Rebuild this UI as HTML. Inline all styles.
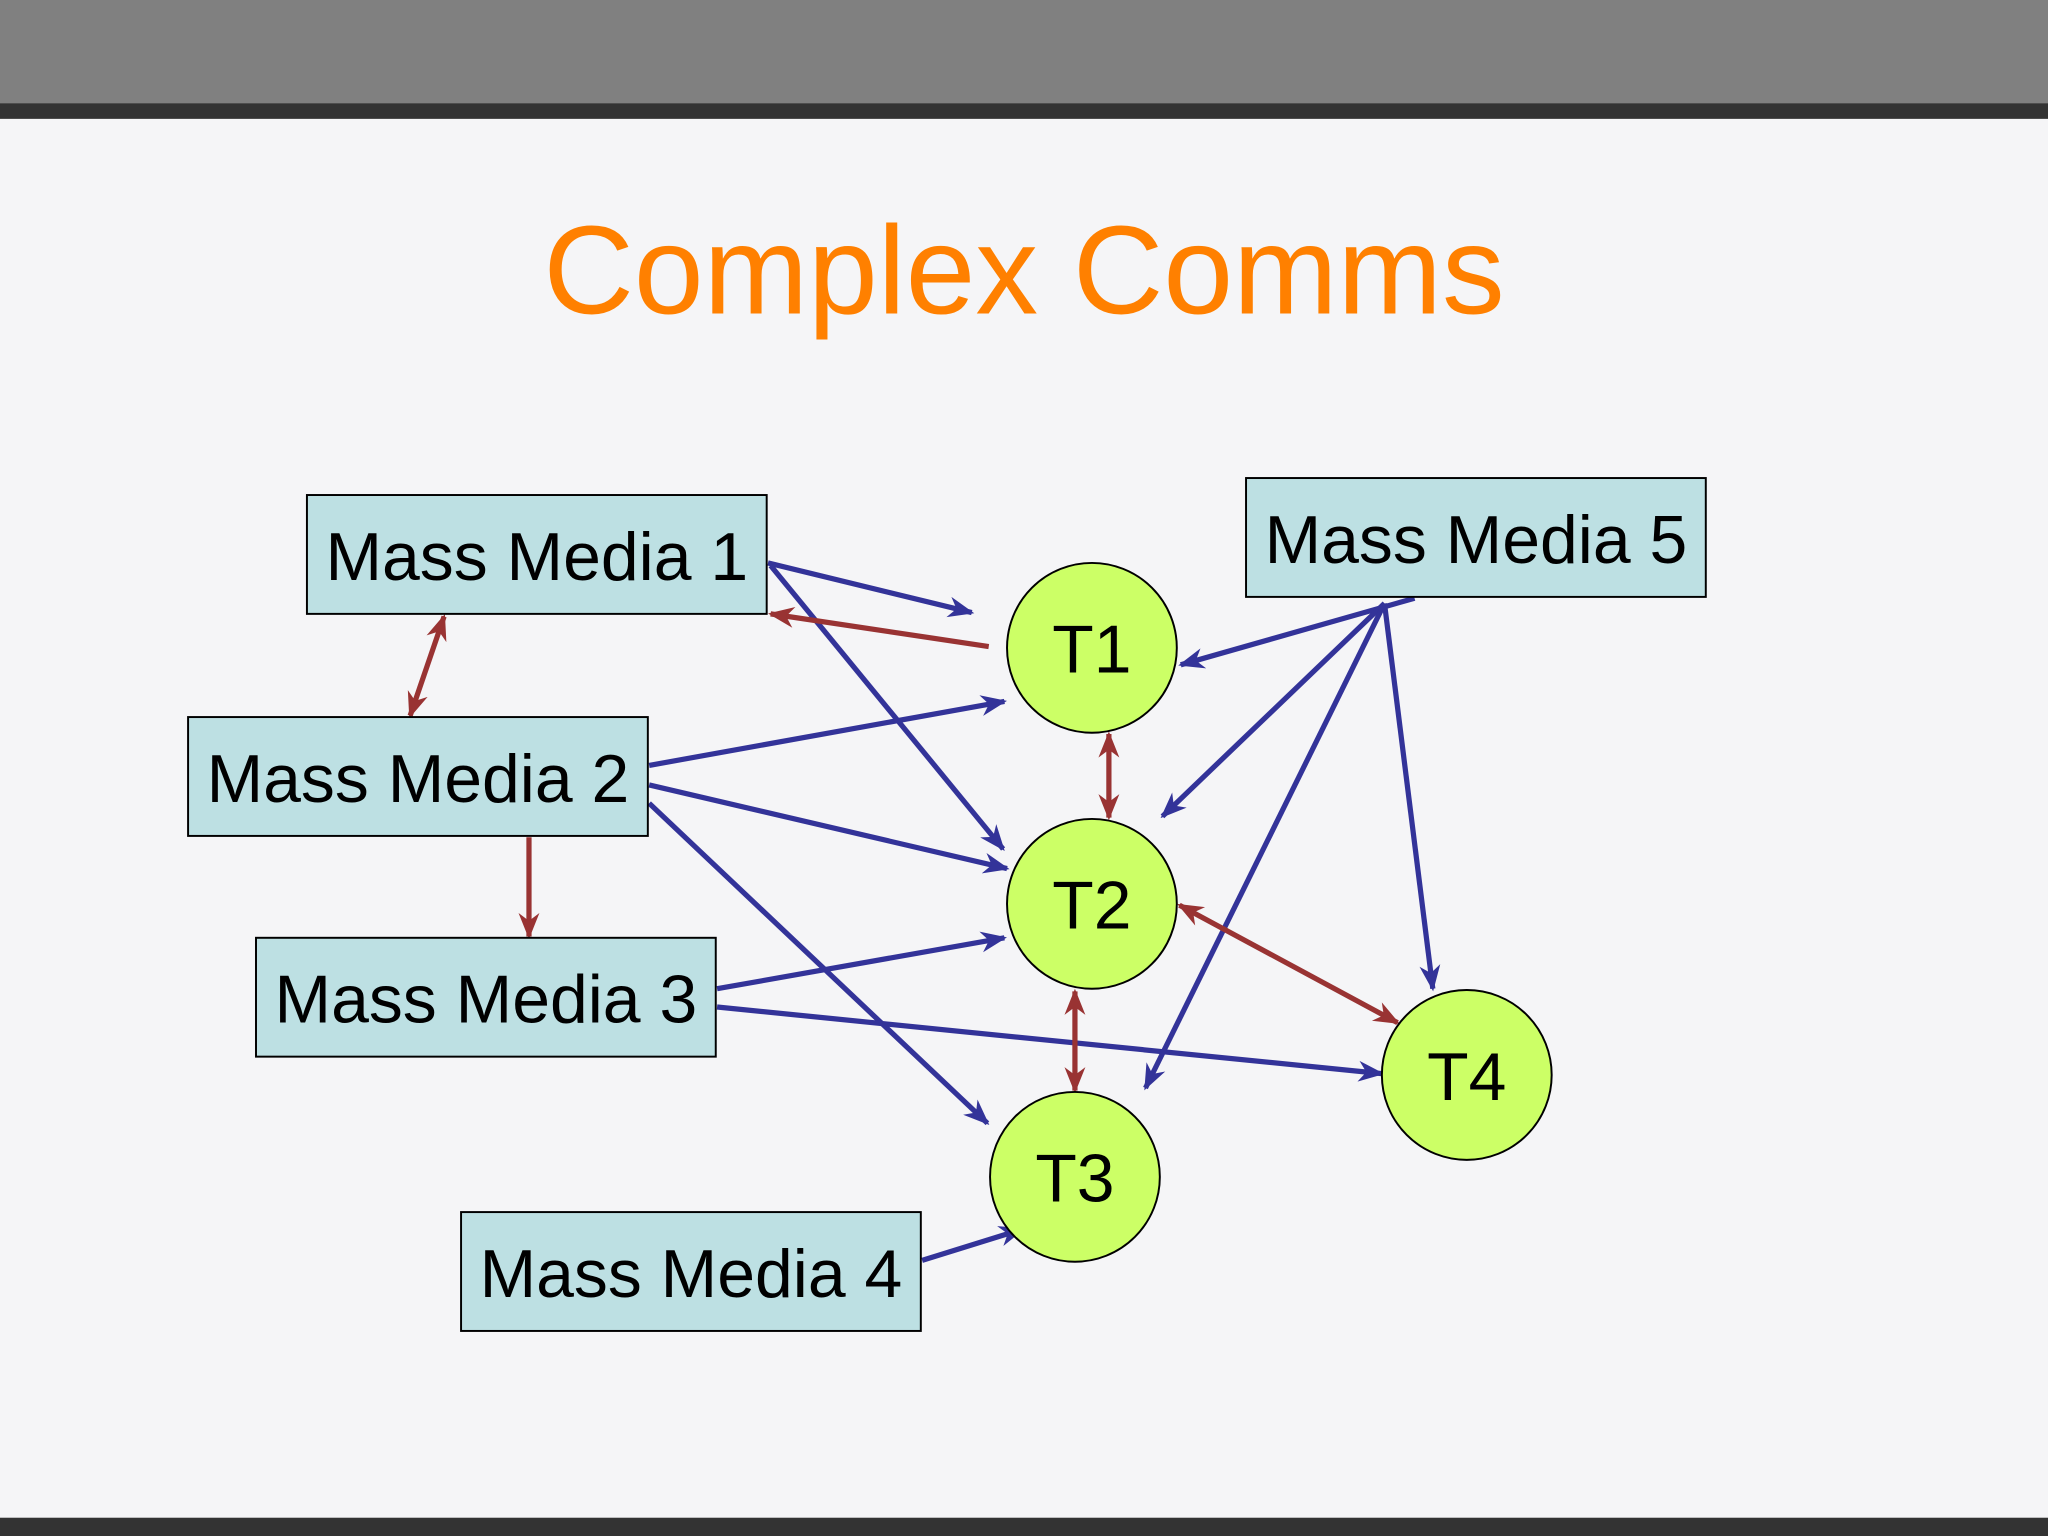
<!DOCTYPE html>
<html><head><meta charset="utf-8"><style>
html,body{margin:0;padding:0;width:2048px;height:1536px;overflow:hidden;background:#f5f5f7}
svg{display:block}
text{font-family:"Liberation Sans",Arial,sans-serif}
</style></head><body>
<svg width="2048" height="1536" viewBox="0 0 1568 1176" xmlns="http://www.w3.org/2000/svg">
<defs>
<marker id="b" viewBox="0 0 10 10" refX="9" refY="5" markerWidth="5" markerHeight="5" orient="auto-start-reverse" markerUnits="strokeWidth"><path d="M0,1 L10,5 L0,9 L3,5 z" fill="#333399"/></marker>
<marker id="r" viewBox="0 0 10 10" refX="9" refY="5" markerWidth="5" markerHeight="5" orient="auto-start-reverse" markerUnits="strokeWidth"><path d="M0,1 L10,5 L0,9 L3,5 z" fill="#993333"/></marker>
</defs>
<rect x="0" y="0" width="1568" height="1176" fill="#f5f5f7"/>
<rect x="0" y="0" width="1568" height="79" fill="#808080"/>
<rect x="0" y="79" width="1568" height="12" fill="#333333"/>
<rect x="0" y="1162" width="1568" height="14" fill="#333333"/>
<text x="784" y="240" font-size="96" fill="#ff8000" text-anchor="middle">Complex Comms</text>

<g stroke="#333399" stroke-width="4" fill="none" marker-end="url(#b)">
<line x1="588" y1="431" x2="744" y2="469"/>
<line x1="590" y1="433" x2="768" y2="650"/>
<line x1="497" y1="586" x2="769" y2="537"/>
<line x1="497" y1="601" x2="771" y2="665"/>
<line x1="497" y1="615" x2="756" y2="860"/>
<line x1="549" y1="757" x2="769" y2="718"/>
<line x1="549" y1="771" x2="1058" y2="822"/>
<line x1="706" y1="965" x2="783" y2="941"/>
<line x1="1083" y1="458" x2="904" y2="509"/>
<line x1="1060" y1="462" x2="890" y2="625"/>
<line x1="1060" y1="462" x2="877" y2="833"/>
<line x1="1060" y1="462" x2="1097" y2="757"/>
</g>
<g stroke="#993333" stroke-width="4" fill="none" marker-end="url(#r)">
<line x1="757" y1="495" x2="590" y2="470"/>
<line x1="340" y1="472" x2="314" y2="548" marker-start="url(#r)"/>
<line x1="849" y1="562" x2="849" y2="626" marker-start="url(#r)"/>
<line x1="405" y1="641" x2="405" y2="717"/>
<line x1="903" y1="693" x2="1070" y2="783" marker-start="url(#r)"/>
<line x1="823" y1="759" x2="823" y2="835" marker-start="url(#r)"/>
</g>

<g fill="#bde0e3" stroke="#000" stroke-width="1.5">
<rect x="235" y="379" width="352" height="91"/>
<rect x="144" y="549" width="352" height="91"/>
<rect x="196" y="718" width="352" height="91"/>
<rect x="353" y="928" width="352" height="91"/>
<rect x="954" y="366" width="352" height="91"/>
</g>
<g font-size="52" fill="#000" text-anchor="middle">
<text x="411" y="444">Mass Media 1</text>
<text x="320" y="614">Mass Media 2</text>
<text x="372" y="783">Mass Media 3</text>
<text x="529" y="993">Mass Media 4</text>
<text x="1130" y="431">Mass Media 5</text>
</g>
<g fill="#ccff66" stroke="#000" stroke-width="1.5">
<circle cx="836" cy="496" r="65"/>
<circle cx="836" cy="692" r="65"/>
<circle cx="823" cy="901" r="65"/>
<circle cx="1123" cy="823" r="65"/>
</g>
<g font-size="52" fill="#000" text-anchor="middle">
<text x="836" y="515">T1</text>
<text x="836" y="711">T2</text>
<text x="823" y="920">T3</text>
<text x="1123" y="842">T4</text>
</g>
</svg>
</body></html>
